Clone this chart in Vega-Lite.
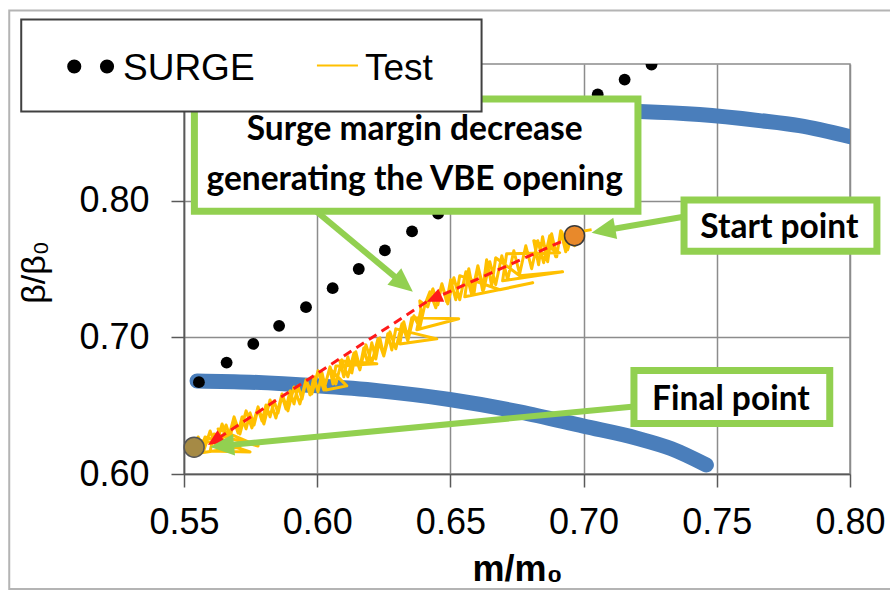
{
  "$schema": "https://vega.github.io/schema/vega-lite/v6.json",
  "width": 666,
  "height": 410,
  "autosize": {"type": "none"},
  "padding": {"left": 184, "top": 64, "right": 40, "bottom": 117},
  "background": "white",
  "config": {"view": {"stroke": "#8c8c8c", "strokeWidth": 1.5}},
  "encoding": {
    "x": {"field": "x", "type": "quantitative",
      "scale": {"domain": [0.55, 0.8], "nice": false, "zero": false},
      "axis": {"values": [0.55, 0.6, 0.65, 0.7, 0.75, 0.8], "format": ".2f", "title": "m/m₀",
        "grid": true, "gridColor": "#8c8c8c", "gridWidth": 1.5,
        "domainColor": "#595959", "domainWidth": 1.5, "tickColor": "#595959", "tickWidth": 1.5, "tickSize": 13,
        "labelFont": "Liberation Sans", "labelFontSize": 36, "labelColor": "#000000", "labelPadding": 18,
        "labelFlush": false, "labelOverlap": false,
        "titleFont": "Liberation Sans", "titleFontSize": 36, "titleFontWeight": "bold", "titleColor": "#000000",
        "titleY": 106, "titleBaseline": "alphabetic"}},
    "y": {"field": "y", "type": "quantitative",
      "scale": {"domain": [0.6, 0.9], "nice": false, "zero": false},
      "axis": {"values": [0.6, 0.7, 0.8], "format": ".2f", "title": "β/β₀",
        "grid": true, "gridColor": "#8c8c8c", "gridWidth": 1.5,
        "domainColor": "#595959", "domainWidth": 1.5, "tickColor": "#595959", "tickWidth": 1.5, "tickSize": 13,
        "labelFont": "Liberation Sans", "labelFontSize": 36, "labelColor": "#000000", "labelPadding": 22,
        "labelOverlap": false,
        "titleFont": "Liberation Sans", "titleFontSize": 34, "titleFontWeight": "normal", "titleColor": "#000000",
        "titleX": -140, "titleY": 208, "titleAngle": 270, "titleAlign": "center", "titleBaseline": "alphabetic"}}
  },
  "layer": [
    {
      "data": {"values": [{"x": 0.4844, "x2": 0.8166, "y": 0.9392, "y2": 0.5158}]},
      "mark": {"type": "rect", "fill": null, "fillOpacity": 0, "stroke": "#b4b4b4", "strokeWidth": 2},
      "encoding": {"x2": {"field": "x2"}, "y2": {"field": "y2"}}
    },
    {
      "data": {"values": [
        {"s": "low", "x": 0.5549, "y": 0.6681},
        {"s": "low", "x": 0.5748, "y": 0.6672},
        {"s": "low", "x": 0.5999, "y": 0.6645},
        {"s": "low", "x": 0.6235, "y": 0.6608},
        {"s": "low", "x": 0.6497, "y": 0.6545},
        {"s": "low", "x": 0.6760, "y": 0.6455},
        {"s": "low", "x": 0.7000, "y": 0.6350},
        {"s": "low", "x": 0.7200, "y": 0.6262},
        {"s": "low", "x": 0.7330, "y": 0.6185},
        {"s": "low", "x": 0.7461, "y": 0.6066},
        {"s": "high", "x": 0.7000, "y": 0.8660},
        {"s": "high", "x": 0.7210, "y": 0.8652},
        {"s": "high", "x": 0.7435, "y": 0.8630},
        {"s": "high", "x": 0.7660, "y": 0.8586},
        {"s": "high", "x": 0.7810, "y": 0.8549},
        {"s": "high", "x": 0.8005, "y": 0.8466}
      ]},
      "mark": {"type": "line", "color": "#4A7EBB", "strokeWidth": 15, "strokeCap": "round", "strokeJoin": "round", "clip": true, "interpolate": "monotone"},
      "encoding": {"detail": {"field": "s"}}
    },
    {
      "data": {"values": [
        {"x": 0.5556, "y": 0.6672}, {"x": 0.5660, "y": 0.6815}, {"x": 0.5760, "y": 0.6952},
        {"x": 0.5857, "y": 0.7084}, {"x": 0.5958, "y": 0.7221}, {"x": 0.6058, "y": 0.7360},
        {"x": 0.6156, "y": 0.7500}, {"x": 0.6254, "y": 0.7636}, {"x": 0.6356, "y": 0.7775},
        {"x": 0.6454, "y": 0.7905}, {"x": 0.6554, "y": 0.8050}, {"x": 0.6654, "y": 0.8195},
        {"x": 0.6754, "y": 0.8341}, {"x": 0.6854, "y": 0.8486}, {"x": 0.6954, "y": 0.8632},
        {"x": 0.7053, "y": 0.8777}, {"x": 0.7154, "y": 0.8886}, {"x": 0.7255, "y": 0.8996}
      ]},
      "mark": {"type": "point", "filled": true, "color": "#000000", "opacity": 1, "size": 140, "clip": true}
    },
    {
      "data": {"values": [
        {"i": 0, "x": 0.7030, "y": 0.7788}, {"i": 1, "x": 0.6985, "y": 0.7773}, {"i": 2, "x": 0.6966, "y": 0.7670},
        {"i": 3, "x": 0.6951, "y": 0.7802}, {"i": 4, "x": 0.6933, "y": 0.7626}, {"i": 5, "x": 0.6914, "y": 0.7780},
        {"i": 6, "x": 0.6899, "y": 0.7590}, {"i": 7, "x": 0.6880, "y": 0.7758}, {"i": 8, "x": 0.6865, "y": 0.7553},
        {"i": 9, "x": 0.6846, "y": 0.7736}, {"i": 10, "x": 0.6831, "y": 0.7531}, {"i": 11, "x": 0.6813, "y": 0.7707},
        {"i": 12, "x": 0.6910, "y": 0.7619}, {"i": 13, "x": 0.6711, "y": 0.7612}, {"i": 14, "x": 0.6696, "y": 0.7414},
        {"i": 15, "x": 0.6921, "y": 0.7480}, {"i": 16, "x": 0.6760, "y": 0.7451}, {"i": 17, "x": 0.6670, "y": 0.7582},
        {"i": 18, "x": 0.6655, "y": 0.7377}, {"i": 19, "x": 0.6636, "y": 0.7568}, {"i": 20, "x": 0.6621, "y": 0.7341},
        {"i": 21, "x": 0.6603, "y": 0.7524}, {"i": 22, "x": 0.6588, "y": 0.7311}, {"i": 23, "x": 0.6569, "y": 0.7502},
        {"i": 24, "x": 0.6554, "y": 0.7297}, {"i": 25, "x": 0.6809, "y": 0.7399}, {"i": 26, "x": 0.6685, "y": 0.7348},
        {"i": 27, "x": 0.6535, "y": 0.7451}, {"i": 28, "x": 0.6520, "y": 0.7275}, {"i": 29, "x": 0.6501, "y": 0.7421},
        {"i": 30, "x": 0.6486, "y": 0.7260}, {"i": 31, "x": 0.6468, "y": 0.7392}, {"i": 32, "x": 0.6453, "y": 0.7238},
        {"i": 33, "x": 0.6434, "y": 0.7355}, {"i": 34, "x": 0.6415, "y": 0.7223}, {"i": 35, "x": 0.6385, "y": 0.7267},
        {"i": 36, "x": 0.6389, "y": 0.7201}, {"i": 37, "x": 0.6374, "y": 0.7055}, {"i": 38, "x": 0.6531, "y": 0.7136},
        {"i": 39, "x": 0.6355, "y": 0.7143}, {"i": 40, "x": 0.6340, "y": 0.6996}, {"i": 41, "x": 0.6325, "y": 0.7114},
        {"i": 42, "x": 0.6310, "y": 0.6952}, {"i": 43, "x": 0.6449, "y": 0.6989}, {"i": 44, "x": 0.6295, "y": 0.7062},
        {"i": 45, "x": 0.6280, "y": 0.6908}, {"i": 46, "x": 0.6265, "y": 0.7026}, {"i": 47, "x": 0.6250, "y": 0.6864},
        {"i": 48, "x": 0.6235, "y": 0.6996}, {"i": 49, "x": 0.6220, "y": 0.6842}, {"i": 50, "x": 0.6205, "y": 0.6960},
        {"i": 51, "x": 0.6190, "y": 0.6806}, {"i": 52, "x": 0.6175, "y": 0.6923}, {"i": 53, "x": 0.6160, "y": 0.6777},
        {"i": 54, "x": 0.6145, "y": 0.6894}, {"i": 55, "x": 0.6130, "y": 0.6740}, {"i": 56, "x": 0.6115, "y": 0.6857},
        {"i": 57, "x": 0.6100, "y": 0.6711}, {"i": 58, "x": 0.6085, "y": 0.6828}, {"i": 59, "x": 0.6224, "y": 0.6806},
        {"i": 60, "x": 0.6070, "y": 0.6791}, {"i": 61, "x": 0.6059, "y": 0.6659}, {"i": 62, "x": 0.6048, "y": 0.6769},
        {"i": 63, "x": 0.6111, "y": 0.6645}, {"i": 64, "x": 0.6033, "y": 0.6615}, {"i": 65, "x": 0.6018, "y": 0.6740},
        {"i": 66, "x": 0.6003, "y": 0.6601}, {"i": 67, "x": 0.5988, "y": 0.6711}, {"i": 68, "x": 0.5973, "y": 0.6579},
        {"i": 69, "x": 0.5958, "y": 0.6681}, {"i": 70, "x": 0.5943, "y": 0.6549}, {"i": 71, "x": 0.5928, "y": 0.6645},
        {"i": 72, "x": 0.5913, "y": 0.6513}, {"i": 73, "x": 0.5898, "y": 0.6608}, {"i": 74, "x": 0.5883, "y": 0.6476},
        {"i": 75, "x": 0.5868, "y": 0.6571}, {"i": 76, "x": 0.5853, "y": 0.6447}, {"i": 77, "x": 0.5838, "y": 0.6535},
        {"i": 78, "x": 0.5823, "y": 0.6418}, {"i": 79, "x": 0.5808, "y": 0.6505}, {"i": 80, "x": 0.5793, "y": 0.6388},
        {"i": 81, "x": 0.5778, "y": 0.6476}, {"i": 82, "x": 0.5763, "y": 0.6359}, {"i": 83, "x": 0.5748, "y": 0.6447},
        {"i": 84, "x": 0.5733, "y": 0.6330}, {"i": 85, "x": 0.5718, "y": 0.6418}, {"i": 86, "x": 0.5703, "y": 0.6300},
        {"i": 87, "x": 0.5688, "y": 0.6388}, {"i": 88, "x": 0.5673, "y": 0.6271}, {"i": 89, "x": 0.5658, "y": 0.6359},
        {"i": 90, "x": 0.5643, "y": 0.6242}, {"i": 91, "x": 0.5628, "y": 0.6330}, {"i": 92, "x": 0.5778, "y": 0.6205},
        {"i": 93, "x": 0.5613, "y": 0.6293}, {"i": 94, "x": 0.5598, "y": 0.6168}, {"i": 95, "x": 0.5748, "y": 0.6161},
        {"i": 96, "x": 0.5579, "y": 0.6271}, {"i": 97, "x": 0.5560, "y": 0.6154}, {"i": 98, "x": 0.5710, "y": 0.6198},
        {"i": 99, "x": 0.5545, "y": 0.6249}, {"i": 100, "x": 0.5523, "y": 0.6168}, {"i": 101, "x": 0.5541, "y": 0.6198},
        {"i": 102, "x": 0.5553, "y": 0.6271}, {"i": 103, "x": 0.5575, "y": 0.6176}, {"i": 104, "x": 0.5598, "y": 0.6315},
        {"i": 105, "x": 0.5620, "y": 0.6205}, {"i": 106, "x": 0.5643, "y": 0.6366}, {"i": 107, "x": 0.5665, "y": 0.6249},
        {"i": 108, "x": 0.5688, "y": 0.6418}, {"i": 109, "x": 0.5710, "y": 0.6293}, {"i": 110, "x": 0.5733, "y": 0.6462},
        {"i": 111, "x": 0.5755, "y": 0.6337}, {"i": 112, "x": 0.5778, "y": 0.6491}, {"i": 113, "x": 0.5800, "y": 0.6366},
        {"i": 114, "x": 0.5823, "y": 0.6542}, {"i": 115, "x": 0.5845, "y": 0.6410}, {"i": 116, "x": 0.5868, "y": 0.6586},
        {"i": 117, "x": 0.5890, "y": 0.6462}, {"i": 118, "x": 0.5913, "y": 0.6637}, {"i": 119, "x": 0.5935, "y": 0.6513},
        {"i": 120, "x": 0.5958, "y": 0.6689}, {"i": 121, "x": 0.5980, "y": 0.6586}, {"i": 122, "x": 0.6003, "y": 0.6755},
        {"i": 123, "x": 0.6025, "y": 0.6615}, {"i": 124, "x": 0.6048, "y": 0.6784}, {"i": 125, "x": 0.6070, "y": 0.6659},
        {"i": 126, "x": 0.6093, "y": 0.6835}, {"i": 127, "x": 0.6115, "y": 0.6711}, {"i": 128, "x": 0.6138, "y": 0.6886},
        {"i": 129, "x": 0.6160, "y": 0.6762}, {"i": 130, "x": 0.6183, "y": 0.6945}, {"i": 131, "x": 0.6205, "y": 0.6813},
        {"i": 132, "x": 0.6228, "y": 0.6989}, {"i": 133, "x": 0.6250, "y": 0.6864}, {"i": 134, "x": 0.6273, "y": 0.7040},
        {"i": 135, "x": 0.6295, "y": 0.6916}, {"i": 136, "x": 0.6318, "y": 0.7099}, {"i": 137, "x": 0.6340, "y": 0.6974},
        {"i": 138, "x": 0.6363, "y": 0.7158}, {"i": 139, "x": 0.6385, "y": 0.7070}, {"i": 140, "x": 0.6404, "y": 0.7238},
        {"i": 141, "x": 0.6423, "y": 0.7333}, {"i": 142, "x": 0.6445, "y": 0.7216}, {"i": 143, "x": 0.6468, "y": 0.7392},
        {"i": 144, "x": 0.6490, "y": 0.7245}, {"i": 145, "x": 0.6513, "y": 0.7436}, {"i": 146, "x": 0.6535, "y": 0.7275},
        {"i": 147, "x": 0.6558, "y": 0.7480}, {"i": 148, "x": 0.6580, "y": 0.7311}, {"i": 149, "x": 0.6603, "y": 0.7524},
        {"i": 150, "x": 0.6625, "y": 0.7348}, {"i": 151, "x": 0.6648, "y": 0.7553}, {"i": 152, "x": 0.6670, "y": 0.7385},
        {"i": 153, "x": 0.6693, "y": 0.7597}, {"i": 154, "x": 0.6715, "y": 0.7421}, {"i": 155, "x": 0.6738, "y": 0.7634},
        {"i": 156, "x": 0.6760, "y": 0.7465}, {"i": 157, "x": 0.6783, "y": 0.7670}, {"i": 158, "x": 0.6805, "y": 0.7502},
        {"i": 159, "x": 0.6828, "y": 0.7707}, {"i": 160, "x": 0.6850, "y": 0.7546}, {"i": 161, "x": 0.6873, "y": 0.7744},
        {"i": 162, "x": 0.6895, "y": 0.7590}, {"i": 163, "x": 0.6918, "y": 0.7773}, {"i": 164, "x": 0.6940, "y": 0.7641},
        {"i": 165, "x": 0.6963, "y": 0.7795}, {"i": 166, "x": 0.6993, "y": 0.7714}
      ]},
      "mark": {"type": "line", "color": "#FFC000", "strokeWidth": 3, "strokeJoin": "round"},
      "encoding": {"order": {"field": "i", "type": "quantitative"}}
    },
    {
      "data": {"values": [
        {"x": 0.6966, "y": 0.7744, "x2": 0.6432, "y2": 0.7278},
        {"x": 0.6411, "y": 0.7260, "x2": 0.5609, "y2": 0.6237}
      ]},
      "mark": {"type": "rule", "color": "#FF1A1A", "strokeWidth": 3, "strokeDash": [9, 6]},
      "encoding": {"x2": {"field": "x2"}, "y2": {"field": "y2"}}
    },
    {
      "data": {"values": [{"x": 0.6411, "y": 0.7260}]},
      "mark": {"type": "point", "filled": true, "opacity": 1, "color": "#FF1A1A", "shape": "M0,0L-0.9,2L0.9,2Z", "size": 256, "angle": 246}
    },
    {
      "data": {"values": [{"x": 0.5590, "y": 0.6212}]},
      "mark": {"type": "point", "filled": true, "opacity": 1, "color": "#FF1A1A", "shape": "M0,0L-0.9,2L0.9,2Z", "size": 256, "angle": 237}
    },
    {
      "data": {"values": [{"x": 0.6966, "y": 0.7744}]},
      "mark": {"type": "point", "filled": true, "opacity": 1, "fill": "#E8892B", "stroke": "#3a3a3a", "strokeWidth": 1.5, "size": 400}
    },
    {
      "data": {"values": [{"x": 0.5538, "y": 0.6196}]},
      "mark": {"type": "point", "filled": true, "opacity": 1, "fill": "#A58A45", "stroke": "#555555", "strokeWidth": 1.5, "size": 400}
    },
    {
      "data": {"values": [
        {"x": 0.5980, "y": 0.7949, "x2": 0.6336, "y2": 0.7371},
        {"x": 0.7397, "y": 0.7890, "x2": 0.7060, "y2": 0.7776},
        {"x": 0.7210, "y": 0.6497, "x2": 0.5628, "y2": 0.6204}
      ]},
      "mark": {"type": "rule", "color": "#92D050", "strokeWidth": 6},
      "encoding": {"x2": {"field": "x2"}, "y2": {"field": "y2"}}
    },
    {
      "data": {"values": [{"x": 0.6359, "y": 0.7333}]},
      "mark": {"type": "point", "filled": true, "opacity": 1, "color": "#92D050", "shape": "M0,0L-0.9,2L0.9,2Z", "size": 576, "angle": 129.6}
    },
    {
      "data": {"values": [{"x": 0.7030, "y": 0.7766}]},
      "mark": {"type": "point", "filled": true, "opacity": 1, "color": "#92D050", "shape": "M0,0L-0.9,2L0.9,2Z", "size": 576, "angle": 259.8}
    },
    {
      "data": {"values": [{"x": 0.5598, "y": 0.6198}]},
      "mark": {"type": "point", "filled": true, "opacity": 1, "color": "#92D050", "shape": "M0,0L-0.9,2L0.9,2Z", "size": 576, "angle": 264.6}
    },
    {
      "data": {"values": [
        {"x": 0.5539, "x2": 0.7204, "y": 0.7923, "y2": 0.8744},
        {"x": 0.7377, "x2": 0.8101, "y": 0.7630, "y2": 0.8004},
        {"x": 0.7189, "x2": 0.7924, "y": 0.6370, "y2": 0.6758}
      ]},
      "mark": {"type": "rect", "fill": "#ffffff", "stroke": "#92D050", "strokeWidth": 7},
      "encoding": {"x2": {"field": "x2"}, "y2": {"field": "y2"}}
    },
    {
      "data": {"values": [
        {"x": 0.6366, "y": 0.8447, "t": "Surge margin decrease"},
        {"x": 0.6366, "y": 0.8081, "t": "generating the VBE opening"},
        {"x": 0.7735, "y": 0.7729, "t": "Start point"},
        {"x": 0.7553, "y": 0.6469, "t": "Final point"}
      ]},
      "mark": {"type": "text", "font": "Lato", "fontWeight": "bold", "fontSize": 33.5, "color": "#000000", "align": "center", "baseline": "alphabetic"},
      "encoding": {"text": {"field": "t"}}
    },
    {
      "data": {"values": [{"x": 0.4889, "x2": 0.6617, "y": 0.8652, "y2": 0.9326}]},
      "mark": {"type": "rect", "fill": "#ffffff", "stroke": "#404040", "strokeWidth": 2},
      "encoding": {"x2": {"field": "x2"}, "y2": {"field": "y2"}}
    },
    {
      "data": {"values": [{"x": 0.5088, "y": 0.8982}, {"x": 0.5211, "y": 0.8982}]},
      "mark": {"type": "point", "filled": true, "opacity": 1, "color": "#000000", "size": 200}
    },
    {
      "data": {"values": [{"x": 0.5999, "x2": 0.6153, "y": 0.8989}]},
      "mark": {"type": "rule", "color": "#FFC000", "strokeWidth": 2},
      "encoding": {"x2": {"field": "x2"}}
    },
    {
      "data": {"values": [{"x": 0.5271, "y": 0.8886, "t": "SURGE"}, {"x": 0.6179, "y": 0.8886, "t": "Test"}]},
      "mark": {"type": "text", "font": "Liberation Sans", "fontSize": 37, "color": "#000000", "align": "left", "baseline": "alphabetic"},
      "encoding": {"text": {"field": "t"}}
    }
  ]
}
